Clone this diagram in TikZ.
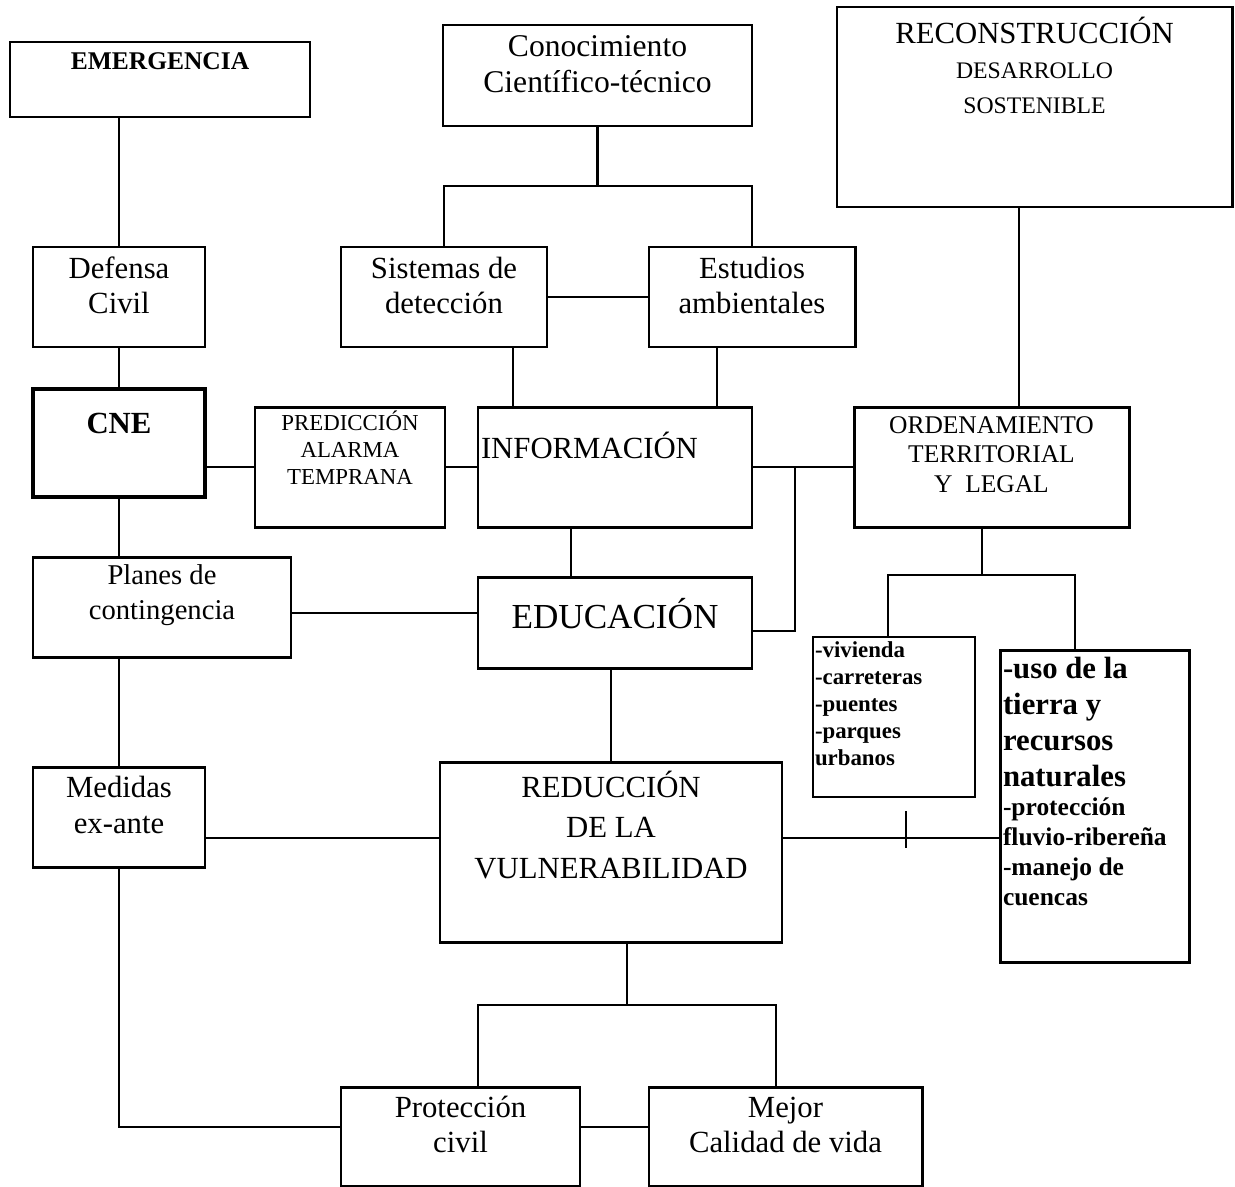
\documentclass[tikz,border=0pt]{standalone}
\usepackage{fontspec}
\setmainfont{Liberation Serif}
\usetikzlibrary{calc}
\newlength\px
\setlength\px{0.02cm}
\newcommand{\cajatxt}[3]{\parbox[c][#2\px][t]{#1\px}{#3}}

\begin{document}
\begin{tikzpicture}[x=0.02cm, y=-0.02cm, line width=1.6pt,
    box/.style = {draw, line width=1.7pt, inner sep=0pt}]
    \useasboundingbox (0,0) rectangle (1235,1187);
    \node[box] (1) at (160,79.5) {\cajatxt{300}{75}{\centering\bfseries\fontsize{14.5}{17}\selectfont\rule{0pt}{27\px}EMERGENCIA}};
    \node[box] (2) at (597.5,75.5) {\cajatxt{309}{101}{\centering\fontsize{18}{20.5}\selectfont\rule{0pt}{31\px}Conocimiento\\ Científico-técnico}};
    \node[box] (3) at (1034.5,107) {\cajatxt{395}{200}{\centering\fontsize{13.5}{20}\selectfont\rule{0pt}{36\px}{\fontsize{17.5}{20}\selectfont RECONSTRUCCIÓN}\\ DESARROLLO\\ SOSTENIBLE}};
    \node[box] (4) at (119,297) {\cajatxt{172}{100}{\centering\fontsize{17.5}{20}\selectfont\rule{0pt}{31\px}Defensa\\ Civil}};
    \node[box] (5) at (444,297) {\cajatxt{206}{100}{\centering\fontsize{17.5}{20}\selectfont\rule{0pt}{31\px}Sistemas de\\ detección}};
    \node[box] (6) at (752,297) {\cajatxt{206}{100}{\centering\fontsize{17.5}{20}\selectfont\rule{0pt}{31\px}Estudios\\ ambientales}};
    \node[box, line width=2.6pt] (7) at (119,443) {\cajatxt{172}{108}{\centering\bfseries\fontsize{17.5}{20}\selectfont\rule{0pt}{44\px}CNE}};
    \node[box] (8) at (350,467) {\cajatxt{190}{120}{\centering\fontsize{13}{15.4}\selectfont\rule{0pt}{23\px}PREDICCIÓN\\ ALARMA\\ TEMPRANA}};
    \node[box] (9) at (615,467) {\cajatxt{274}{120}{\raggedright\leftskip=3\px\fontsize{17.5}{20}\selectfont\rule{0pt}{51\px}INFORMACIÓN}};
    \node[box] (10) at (991.5,467) {\cajatxt{275}{120}{\centering\fontsize{14.5}{17}\selectfont\rule{0pt}{26\px}ORDENAMIENTO\\ TERRITORIAL\\ Y~ LEGAL}};
    \node[box] (11) at (162,607) {\cajatxt{258}{100}{\centering\fontsize{16.3}{20}\selectfont\rule{0pt}{27\px}Planes de\\ contingencia}};
    \node[box] (12) at (615,622.5) {\cajatxt{274}{91}{\centering\fontsize{20}{23}\selectfont\rule{0pt}{51\px}EDUCACIÓN}};
    \node[box, line width=1.3pt] (13) at (894,717) {\cajatxt{162}{160}{\raggedright\leftskip=2\px\bfseries\fontsize{13}{15.4}\selectfont\rule{0pt}{20\px}-vivienda\\ -carreteras\\ -puentes\\ -parques\\ urbanos}};
    \node[box] (14) at (1094.5,806) {\cajatxt{189}{312}{\raggedright\leftskip=3\px\bfseries\fontsize{17.5}{20.5}\selectfont\rule{0pt}{28\px}-uso de la\\ tierra y\\ recursos\\ naturales\par\fontsize{14.5}{17}\selectfont -protección\\ fluvio-ribereña\\ -manejo de\\ cuencas}};
    \node[box] (15) at (119,817) {\cajatxt{172}{100}{\centering\fontsize{17.5}{21}\selectfont\rule{0pt}{30\px}Medidas\\ ex-ante}};
    \node[box] (16) at (611,852) {\cajatxt{342}{180}{\centering\fontsize{17.5}{23.3}\selectfont\rule{0pt}{35\px}REDUCCIÓN\\ DE LA\\ VULNERABILIDAD}};
    \node[box] (17) at (460.5,1136.5) {\cajatxt{239}{99}{\centering\fontsize{17.5}{20}\selectfont\rule{0pt}{30\px}Protección\\ civil}};
    \node[box] (18) at (785.5,1136.5) {\cajatxt{273}{99}{\centering\fontsize{17.5}{20}\selectfont\rule{0pt}{30\px}Mejor\\ Calidad de vida}};
    \coordinate (2b) at (597.5,186);
    \coordinate (10b) at (982,575);
    \coordinate (16b) at (627,1005);
    \coordinate (t) at (906,848);
    \draw (4) -- (4 |- 1.south);
    \draw (2) -- (2b);
    \draw (5) |- (2b) -| (6);
    \draw (5) -- (6);
    \draw (9.north -| 513,0) -- (5.south -| 513,0);
    \draw (9.north -| 717,0) -- (6.south -| 717,0);
    \draw (4) -- (7);
    \draw (7.east |- 8) -- (8);
    \draw (8) -- (9);
    \draw (7) -- (7 |- 11.north);
    \draw (3.south -| 1019,0) -- (10.north -| 1019,0);
    \draw (9) -- (10);
    \draw ($(9.east)!0.42!(10.west)$) |- (12.east |- 0,631);
    \draw (9.south -| 571,0) -- (12.north -| 571,0);
    \draw (11.east |- 0,613) -- (12.west |- 0,613);
    \draw (15) -- (15 |- 11.south);
    \draw (16) -- (16 |- 12.south);
    \draw (10.south -| 10b) -- (10b);
    \draw (13.north -| 888,0) |- (10b) -| (14.north -| 1075,0);
    \draw (15.east |- 0,838) -- (16.west |- 0,838);
    \draw (16.east |- 0,838) -- (14.west |- 0,838);
    \draw (13.south -| t) ++(0,13) -- (t);
    \draw (16.south -| 16b) -- (16b);
    \draw (17.north -| 478,0) |- (16b) -| (18.north -| 776,0);
    \draw (15) |- (17.west |- 0,1127);
    \draw (17.east |- 0,1127) -- (18.west |- 0,1127);
\end{tikzpicture}
\end{document}
